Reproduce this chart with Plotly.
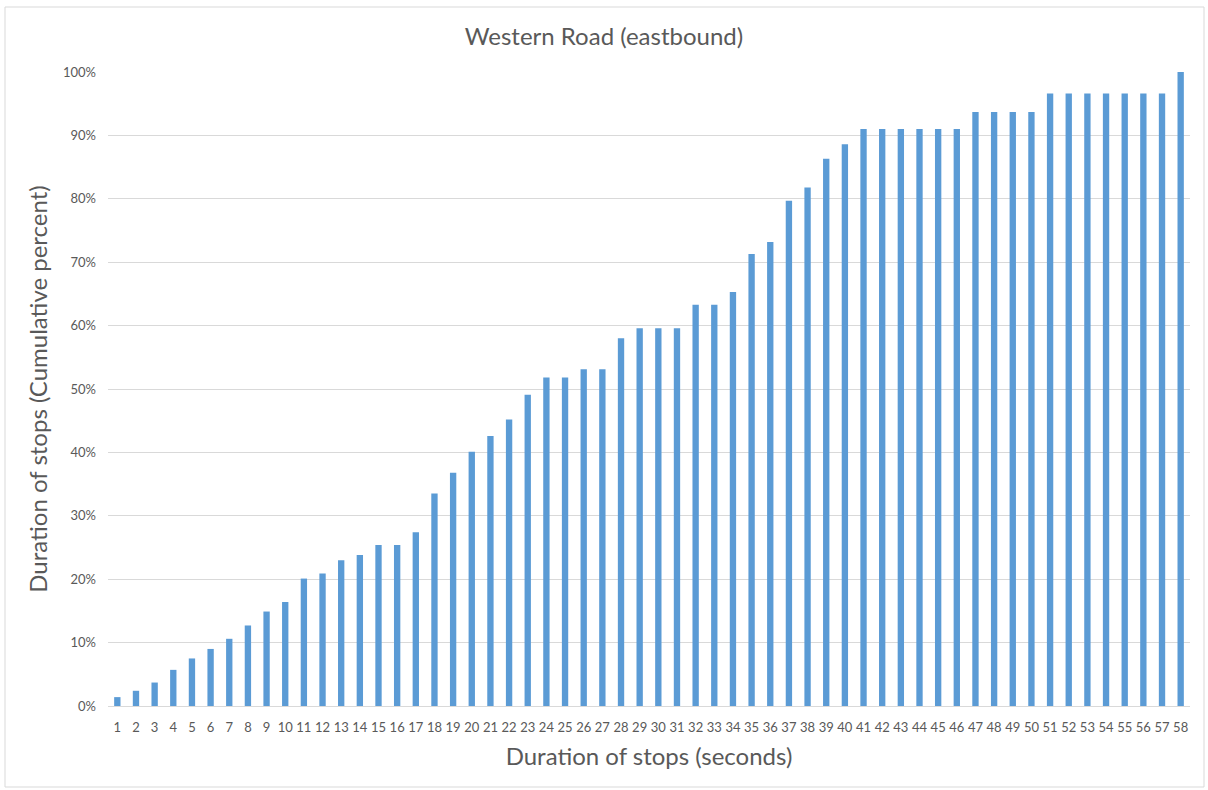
import plotly.graph_objects as go

durations = [str(i) for i in range(1, 59)]
cum_percent = [
    1.4, 2.4, 3.7, 5.7, 7.5, 9.0, 10.6, 12.7, 14.9, 16.4,
    20.1, 20.9, 23.0, 23.8, 25.4, 25.4, 27.4, 33.5, 36.8, 40.1,
    42.6, 45.2, 49.1, 51.8, 51.8, 53.1, 53.1, 58.0, 59.6, 59.6,
    59.6, 63.3, 63.3, 65.3, 71.3, 73.2, 79.7, 81.8, 86.3, 88.6,
    91.0, 91.0, 91.0, 91.0, 91.0, 91.0, 93.7, 93.7, 93.7, 93.7,
    96.6, 96.6, 96.6, 96.6, 96.6, 96.6, 96.6, 100.0,
]
y_ticks = [0, 10, 20, 30, 40, 50, 60, 70, 80, 90, 100]

FONT = "Lato, 'Liberation Sans', sans-serif"
GREY = "#595959"

fig = go.Figure(go.Bar(
    x=durations, y=cum_percent,
    marker=dict(color="#5B9BD5", line=dict(width=0)),
))

fig.update_layout(
    width=1208, height=790,
    paper_bgcolor="white", plot_bgcolor="white",
    margin=dict(l=108, r=18, t=72, b=84),
    bargap=0.66,
    showlegend=False,
    font=dict(family=FONT, color=GREY),
    title=dict(text="Western Road (eastbound)", x=0.5, xanchor="center",
               y=1 - 37 / 790, yanchor="middle",
               font=dict(size=24, color=GREY, family=FONT)),
    xaxis=dict(
        type="category", range=[-0.5, 57.5],
        showgrid=False, showline=True, linecolor="#D9D9D9", linewidth=1,
        ticks="", ticklabelstandoff=9, tickfont=dict(size=13, color=GREY),
        title=dict(text="Duration of stops (seconds)", standoff=14,
                   font=dict(size=24, color=GREY)),
    ),
    yaxis=dict(
        range=[0, 100], tickvals=y_ticks, ticktext=[f"{v}%" for v in y_ticks],
        showgrid=True, gridcolor="#D9D9D9", gridwidth=1,
        zeroline=False, showline=False, ticks="",
        ticklabelstandoff=11,
        tickfont=dict(size=13, color=GREY),
        title=dict(text="Duration of stops (Cumulative percent)", standoff=8,
                   font=dict(size=24, color=GREY)),
    ),
    shapes=[dict(type="rect", xref="paper", yref="paper",
                 x0=(5 - 108) / 1082, x1=(1204 - 108) / 1082,
                 y0=(706 - 787) / 634, y1=(706 - 7) / 634,
                 line=dict(color="#D9D9D9", width=1), fillcolor="rgba(0,0,0,0)",
                 layer="below")],
)

fig.write_html("out.html", config={"displayModeBar": False},
               post_script="document.body.style.margin='0';document.body.style.overflow='hidden';")
